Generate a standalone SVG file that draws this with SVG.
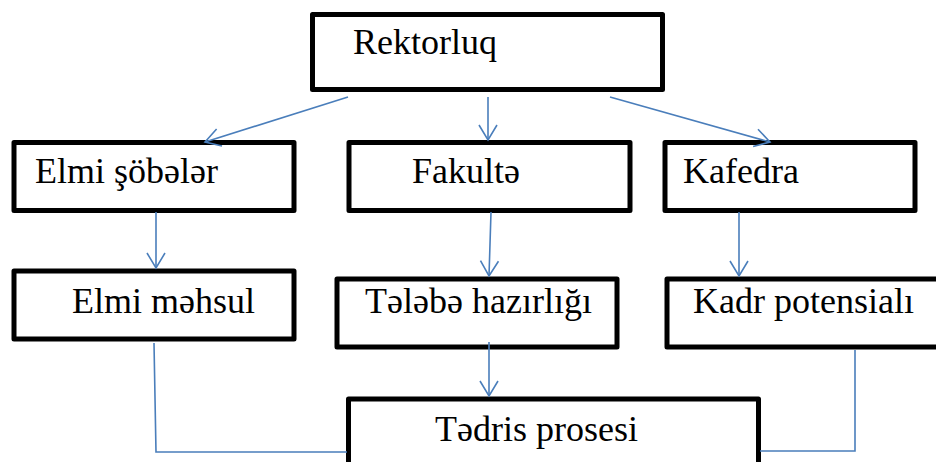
<svg xmlns="http://www.w3.org/2000/svg" width="936" height="462" viewBox="0 0 936 462">
<style>
.box{fill:#fff;stroke:#000;stroke-width:5;stroke-linejoin:round}
.lbl{font-size:36px;fill:#000}
.con{fill:none;stroke:#4a7ebb;stroke-width:1.6}
</style>
<defs>
<marker id="ah" markerUnits="userSpaceOnUse" orient="auto" refX="0" refY="0" markerWidth="20" markerHeight="24" viewBox="-16 -12 18 24" overflow="visible">
<path d="M-15,-9 L0,0 L-15,9" fill="none" stroke="#4a7ebb" stroke-width="1.6"/>
</marker>
</defs>
<g font-family="'Liberation Serif', 'DejaVu Serif', serif">
<g id="n-rektorluq"><rect class="box" x="312.5" y="14.5" width="350" height="75"/><text class="lbl" x="353" y="54">Rektorluq</text></g>
<g id="n-elmi-sobeler"><rect class="box" x="14" y="142.5" width="280" height="68"/><text class="lbl" x="35" y="183">Elmi şöbələr</text></g>
<g id="n-fakulte"><rect class="box" x="349" y="142.5" width="281" height="68"/><text class="lbl" x="412" y="183">Fakultə</text></g>
<g id="n-kafedra"><rect class="box" x="665" y="142.5" width="250" height="68"/><text class="lbl" x="683" y="183">Kafedra</text></g>
<g id="n-elmi-mehsul"><rect class="box" x="14" y="271" width="280" height="68"/><text class="lbl" x="72" y="313">Elmi məhsul</text></g>
<g id="n-telebe"><rect class="box" x="337" y="279" width="280" height="68"/><text class="lbl" x="365" y="313">Tələbə hazırlığı</text></g>
<g id="n-kadr"><rect class="box" x="667" y="279" width="290" height="68"/><text class="lbl" x="693" y="313">Kadr potensialı</text></g>
<g id="n-tedris"><rect class="box" x="348.5" y="399" width="410" height="90"/><text class="lbl" x="435" y="441">Tədris prosesi</text></g>
</g>
<g id="connectors">
<line class="con" x1="348" y1="97" x2="205" y2="142" marker-end="url(#ah)"/>
<line class="con" x1="488" y1="97" x2="488" y2="140" marker-end="url(#ah)"/>
<line class="con" x1="610" y1="97" x2="770" y2="142" marker-end="url(#ah)"/>
<line class="con" x1="156" y1="212" x2="156" y2="268" marker-end="url(#ah)"/>
<line class="con" x1="491" y1="212" x2="489" y2="276" marker-end="url(#ah)"/>
<line class="con" x1="739" y1="212" x2="739" y2="276" marker-end="url(#ah)"/>
<line class="con" x1="489" y1="342" x2="489" y2="396" marker-end="url(#ah)"/>
<polyline class="con" points="154,343 156,452 347,452"/>
<polyline class="con" points="855,350 855,451 760,451"/>
</g>
</svg>
